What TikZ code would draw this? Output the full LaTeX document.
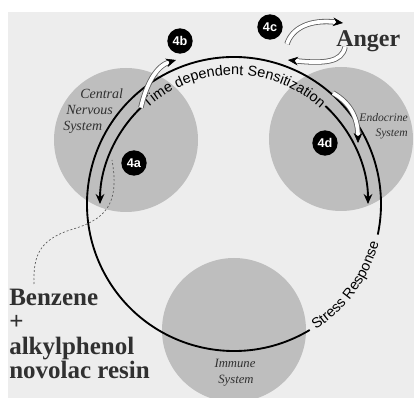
\documentclass[tikz,border=0pt]{standalone}
\usepackage{fontspec}
\setmainfont{Liberation Serif}
\setsansfont{Liberation Sans}
\usetikzlibrary{arrows.meta,calc,decorations.text}

\definecolor{paper}{RGB}{237,237,237}
\definecolor{organgray}{RGB}{190,190,190}
\definecolor{inkgray}{RGB}{48,48,48}
\definecolor{ribbongray}{RGB}{90,90,90}

\newcommand{\arcfont}{\sffamily\fontsize{10.8}{12}\selectfont}

\tikzset{
  organ/.style={circle,fill=organgray,minimum size=108pt,inner sep=0pt},
  organtext/.style={text=inkgray,inner sep=0pt,font=\itshape\fontsize{#1}{#1}\selectfont},
  badge/.style={circle,fill=black,text=white,minimum size=19pt,inner sep=0pt,font=\sffamily\bfseries\fontsize{9.5}{10}\selectfont},
  loopline/.style={line width=1.4pt},
  blacktip/.style={-{Stealth[length=7.5pt,width=6.5pt]}},
  ribbon/.style={draw=ribbongray,line width=0.6pt,double=white,double distance=2.8pt,shorten >=5pt},
  resinpath/.style={draw=ribbongray,line width=0.5pt,dash pattern=on 1.5pt off 1.5pt},
  arctext/.style={decorate,decoration={text along path,text align=center,text={|\arcfont|#1}}},
}

\begin{document}
\begin{tikzpicture}[x=0.75pt,y=0.75pt,yscale=-1,xscale=1]
\useasboundingbox (0,0) rectangle (414,398);
%Shape: Rectangle
\fill[paper] (8,12) rectangle (414,398);

%Shape: Circle
\node[organ] (cns) at (126,140) {};
\node[organ] (endo) at (341,139) {};
\node[organ] (immune) at (234,330) {};

% Text Node
\node[organtext=10.5,anchor=base west] (cnsa) at (80,99) {Central};
\node[organtext=10.5,anchor=base west] (cnsb) at (66,115) {Nervous};
\node[organtext=10.5,anchor=base west] (cnsc) at (63,131) {System};
% Text Node
\node[organtext=8.7,anchor=base east] (endoa) at (408,122) {Endocrine};
\node[organtext=8.7,anchor=base east] (endob) at (408,137) {System};
% Text Node
\node[organtext=9.5,anchor=base] (immunea) at (235,368) {Immune};
\node[organtext=9.5,anchor=base] (immuneb) at (236,384) {System};

\coordinate (loopc) at (234,204);
\coordinate (sensL) at ($(loopc)+(-134:134)$);
\coordinate (sensR) at ($(loopc)+(-47:134)$);

%Curve Lines
\draw[loopline] (loopc) ++(59:147) arc[start angle=59,end angle=372,radius=147];
\draw[loopline,blacktip] (sensL) arc[start angle=-134,end angle=-180,radius=134];
\draw[loopline,blacktip] (sensR) arc[start angle=-47,end angle=0,radius=134];

% Text along the loop
\path[arctext={Time dependent Sensitization}] (loopc) ++(-137:129) arc[start angle=-137,end angle=-43,radius=129];
\path[arctext={Stress Response}] (loopc) ++(62:150) arc[start angle=62,end angle=10,radius=150];

\coordinate (cnsout) at (176,60);
\coordinate (loopup) at (287,44);
\coordinate (angerin) at (343,23);
\coordinate (angerout) at (345,47);
\coordinate (loopback) at (288,60);
\coordinate (endofrom) at (333,93);
\coordinate (endoin) at (358,143);

%Curve Lines
\draw[ribbon] (sensL) .. controls (146,85) and (156,66) .. (cnsout);
\draw[blacktip] ($(cnsout)!3pt!(156,66)$) -- (cnsout);
\draw[ribbon] (loopup) .. controls (292,28) and (310,19) .. (angerin);
\draw[blacktip] ($(angerin)!3pt!(310,19)$) -- (angerin);
\draw[ribbon] (angerout) .. controls (342,62) and (325,64) .. (loopback);
\draw[blacktip] ($(loopback)!3pt!(325,64)$) -- (loopback);
\draw[ribbon] (endofrom) .. controls (352,104) and (358,120) .. (endoin);
\draw[blacktip] ($(endoin)!3pt!(358,120)$) -- (endoin);

%Shape: Circle
\node[badge] (b4a) at (134,163) {4a};
\node[badge] (b4b) at (180,41) {4b};
\node[badge] (b4c) at (270,27) {4c};
\node[badge] (b4d) at (325,143) {4d};

% Text Node
\node[anchor=base west,inner sep=0pt,text=inkgray,font=\bfseries\fontsize{18}{18}\selectfont] (anger) at (336,47) {Anger};
% Text Node
\node[anchor=north west,align=left,inner sep=0pt,text=inkgray,font=\bfseries\fontsize{18.75}{18.2}\selectfont] (benz) at (9,289) {Benzene\\+\\alkylphenol\\novolac resin};

\coordinate (benzin) at (34,284);
\coordinate (resin) at (112,160);
%Curve Lines
\draw[resinpath] (benzin) .. controls (33,255) and (40,240) .. (70,230) .. controls (105,220) and (120,205) .. (resin);

\end{tikzpicture}
\end{document}
